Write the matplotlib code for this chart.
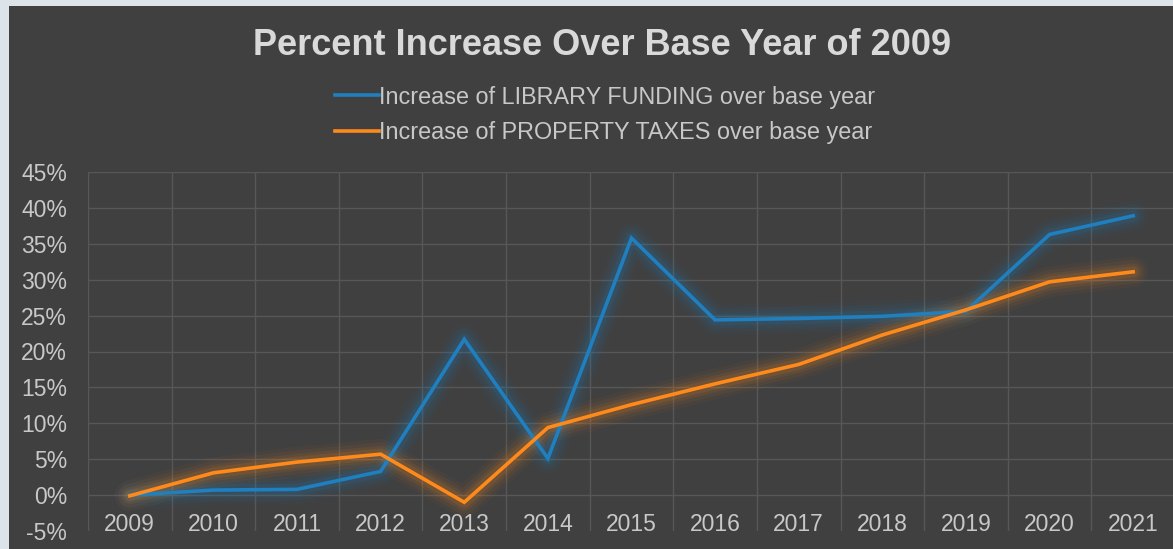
import matplotlib.pyplot as plt
from matplotlib.patches import Rectangle
from matplotlib.ticker import PercentFormatter

years = ['2009', '2010', '2011', '2012', '2013', '2014', '2015',
         '2016', '2017', '2018', '2019', '2020', '2021']
library_funding = [0.0, 0.7, 0.8, 3.3, 21.7, 5.1, 35.8, 24.4, 24.6, 24.9, 25.6, 36.3, 38.9]
property_taxes = [-0.1, 3.1, 4.6, 5.7, -1.0, 9.4, 12.6, 15.5, 18.2, 22.3, 25.8, 29.7, 31.1]

bg = '#404040'
txt = '#c8c8c8'
blue = '#1f7fbf'
orange = '#ff8a1c'

plt.rcParams['font.family'] = ['Liberation Sans', 'DejaVu Sans']
plt.rcParams['axes.unicode_minus'] = False

fig = plt.figure(figsize=(11.73, 5.49), dpi=100)
fig.patch.set_facecolor('#dce4ea')
fig.patches.append(Rectangle((9 / 1173, 0), 1, 543 / 549, transform=fig.transFigure,
                             facecolor=bg, edgecolor='none', zorder=-5))

ax = fig.add_axes([88 / 1173, 18 / 549, 1087 / 1173, 359 / 549])
ax.set_facecolor(bg)
ax.patch.set_alpha(0)

x = range(len(years))


def glow_line(values, color, label):
    # soft halo under the line
    for lw, a in [(22, 0.04), (17, 0.06), (12, 0.08), (8, 0.12)]:
        ax.plot(x, values, color=color, lw=lw, alpha=a,
                solid_capstyle='round', solid_joinstyle='round', zorder=2)
    ax.plot(x, values, color=color, lw=2.6, label=label,
            solid_joinstyle='miter', zorder=3)


glow_line(library_funding, blue, 'Increase of LIBRARY FUNDING over base year')
glow_line(property_taxes, orange, 'Increase of PROPERTY TAXES over base year')

ax.set_xlim(-0.5, len(years) - 0.5)
ax.set_ylim(-5, 45)
ax.set_yticks(range(-5, 50, 5))
ax.yaxis.set_major_formatter(PercentFormatter(decimals=0))
ax.set_xticks(list(x))
ax.set_xticklabels(years)
ax.set_xticks([i - 0.5 for i in x], minor=True)

ax.spines['bottom'].set_position(('data', 0))
for s in ax.spines.values():
    s.set_visible(False)

ax.tick_params(axis='x', which='both', length=0, pad=13, labelsize=16.5, colors=txt)
ax.tick_params(axis='y', length=0, pad=15, labelsize=16.5, colors=txt)

ax.grid(False)
for yv in range(0, 50, 5):
    ax.axhline(yv, color='#575757', lw=1, zorder=1)
ax.grid(True, axis='x', which='minor', color='#575757', lw=1, zorder=1)

fig.text(0.513, 0.918, 'Percent Increase Over Base Year of 2009', ha='center', va='center',
         fontsize=26, fontweight='bold', color='#d9d9d9')

leg = fig.legend(loc='upper left', bbox_to_anchor=(314 / 1173, 468 / 549 + 0.03),
                 frameon=False, fontsize=16.8, labelcolor=txt, handlelength=1.9,
                 handletextpad=0.0, labelspacing=0.55)

fig.savefig('out.png', dpi=100, facecolor=fig.get_facecolor())
